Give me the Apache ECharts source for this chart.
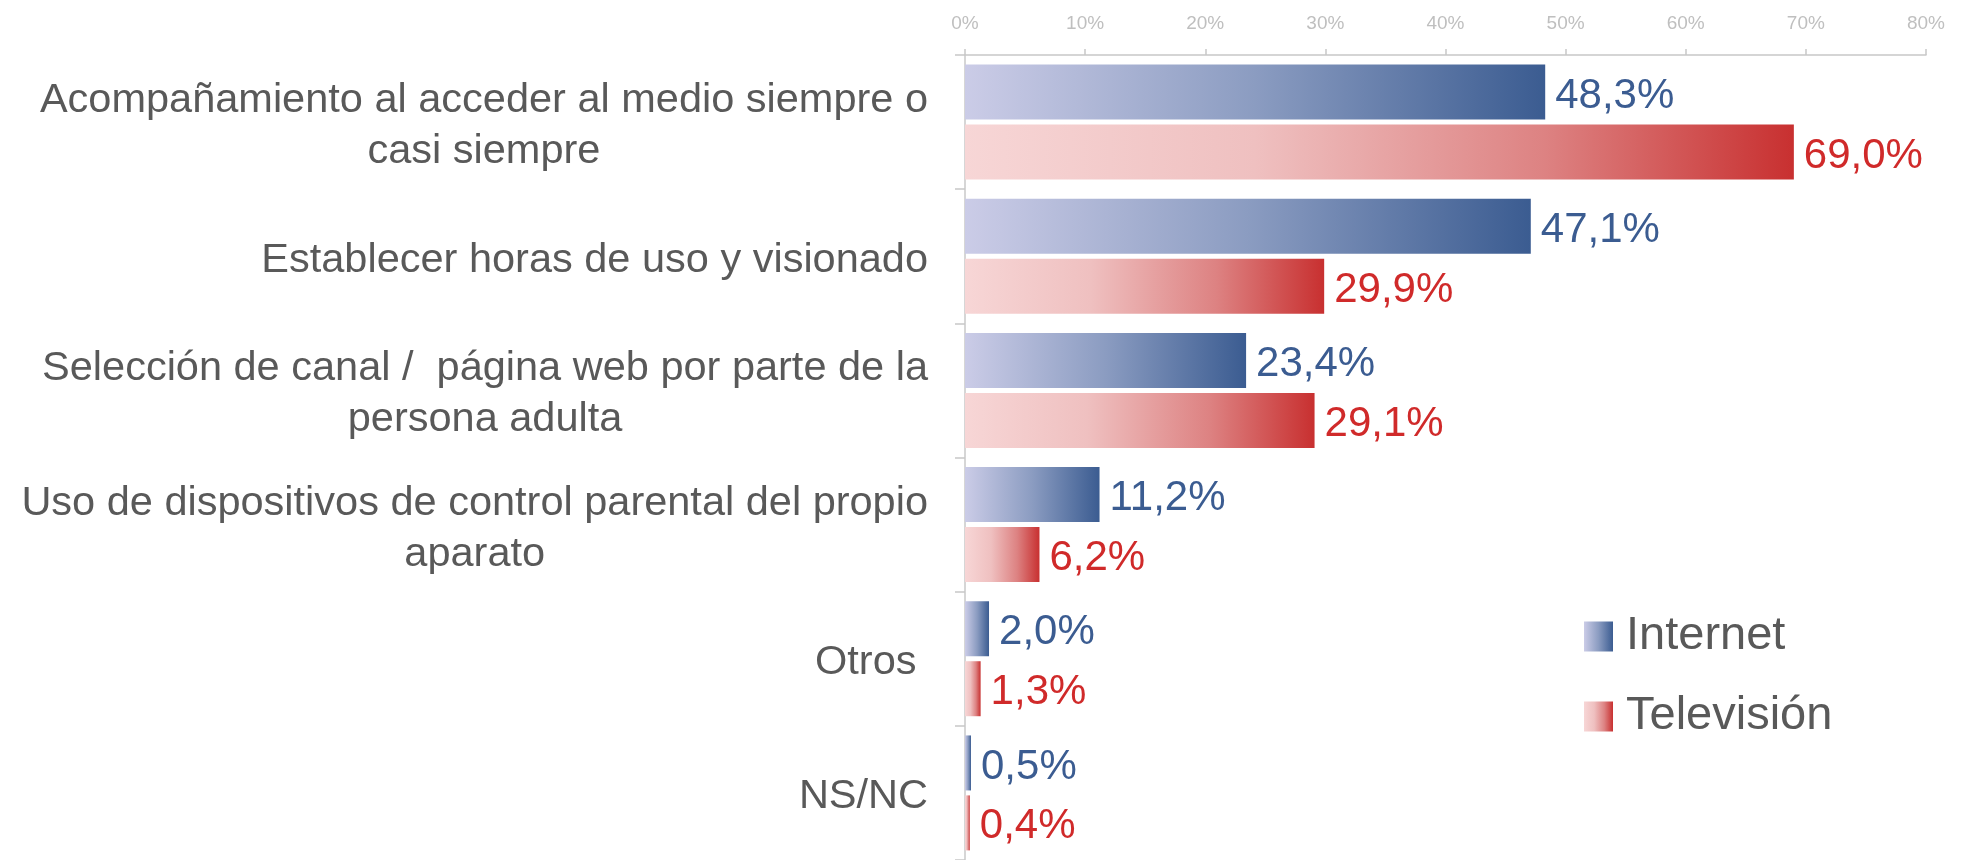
<!DOCTYPE html>
<html>
<head>
<meta charset="utf-8">
<script src="https://cdn.jsdelivr.net/npm/echarts@6/dist/echarts.min.js"></script>
<style>
html, body { margin: 0; padding: 0; background: #fff; }
#chart { width: 1964px; height: 860px; }
</style>
</head>
<body>
<div id="chart"></div>
<script>
// data
var categories = [
    "Acompañamiento al acceder al medio siempre o\ncasi siempre",
    "Establecer horas de uso y visionado",
    "Selección de canal /  página web por parte de la\npersona adulta",
    "Uso de dispositivos de control parental del propio\naparato",
    "Otros ",
    "NS/NC"
];
var internetValues = [48.3, 47.1, 23.4, 11.2, 2.0, 0.5];
var tvValues = [69.0, 29.9, 29.1, 6.2, 1.3, 0.4];
var axisTicks = [0, 10, 20, 30, 40, 50, 60, 70, 80];

function pct(v){
    return v.toFixed(1).replace('.', ',') + '%';
}

function grad(stops){
    return new echarts.graphic.LinearGradient(0, 0, 1, 0, stops);
}

var blueGrad = grad([
    {offset: 0, color: '#CBCCE7'},
    {offset: 0.5, color: '#8B9CC1'},
    {offset: 1, color: '#3B5C91'}
]);
var redGrad = grad([
    {offset: 0, color: '#F7D6D6'},
    {offset: 0.35, color: '#EFC0C0'},
    {offset: 0.7, color: '#DD8282'},
    {offset: 1, color: '#C83030'}
]);

var myChart = echarts.init(document.getElementById('chart'));

var option = {
    "animation": false,
    "backgroundColor": "#ffffff",
    "grid": {
        "left": 965,
        "width": 961,
        "top": 55,
        "height": 810
    },
    "legend": {
        "orient": "vertical",
        "left": 1579,
        "top": 608,
        "itemWidth": 29,
        "itemHeight": 30,
        "itemGap": 33,
        "icon": "rect",
        "data": ["Internet", "Televisión"],
        "textStyle": {
            "color": "#595959",
            "fontSize": 47,
            "lineHeight": 46,
            "fontFamily": "Liberation Sans, Arial, sans-serif",
            "padding": [0, 0, 0, 8]
        }
    },
    "xAxis": {
        "type": "value",
        "position": "top",
        "min": axisTicks[0],
        "max": axisTicks[axisTicks.length - 1],
        "interval": 10,
        "splitLine": {"show": false},
        "axisLine": {"show": true, "lineStyle": {"color": "#C8C8C8", "width": 1.5}},
        "axisTick": {"show": true, "length": 6, "lineStyle": {"color": "#C8C8C8", "width": 1.5}},
        "axisLabel": {
            "margin": 22,
            "color": "#BFBFBF",
            "fontSize": 19,
            "fontFamily": "Liberation Sans, Arial, sans-serif",
            "formatter": "{value}%"
        }
    },
    "yAxis": {
        "type": "category",
        "inverse": true,
        "data": categories,
        "axisLine": {"show": true, "lineStyle": {"color": "#C8C8C8", "width": 1.5}},
        "axisTick": {"show": true, "length": 10, "lineStyle": {"color": "#C8C8C8", "width": 1.5}},
        "axisLabel": {
            "margin": 37,
            "align": "right",
            "formatter": function(value){
                return value.split('\n').map(function(line){
                    return '{c|' + line + '}';
                }).join('\n');
            },
            "rich": {
                "c": {
                    "align": "center",
                    "color": "#595959",
                    "fontSize": 41.5,
                    "lineHeight": 51,
                    "padding": [8, 0, 0, 0],
                    "fontFamily": "Liberation Sans, Arial, sans-serif"
                }
            }
        }
    },
    "series": [
        {
            "name": "Internet",
            "type": "bar",
            "data": internetValues,
            "barWidth": 55,
            "barGap": "9%",
            "itemStyle": {"color": blueGrad},
            "label": {
                "show": true,
                "position": "right",
                "distance": 10,
                "offset": [0, 4],
                "color": "#3B5C91",
                "fontSize": 42,
                "fontFamily": "Liberation Sans, Arial, sans-serif",
                "formatter": function(p){ return pct(p.value); }
            }
        },
        {
            "name": "Televisión",
            "type": "bar",
            "data": tvValues,
            "barWidth": 55,
            "barGap": "9%",
            "itemStyle": {"color": redGrad},
            "label": {
                "show": true,
                "position": "right",
                "distance": 10,
                "offset": [0, 4],
                "color": "#D02A2A",
                "fontSize": 42,
                "fontFamily": "Liberation Sans, Arial, sans-serif",
                "formatter": function(p){ return pct(p.value); }
            }
        }
    ]
};
myChart.setOption(option);
</script>
</body>
</html>
